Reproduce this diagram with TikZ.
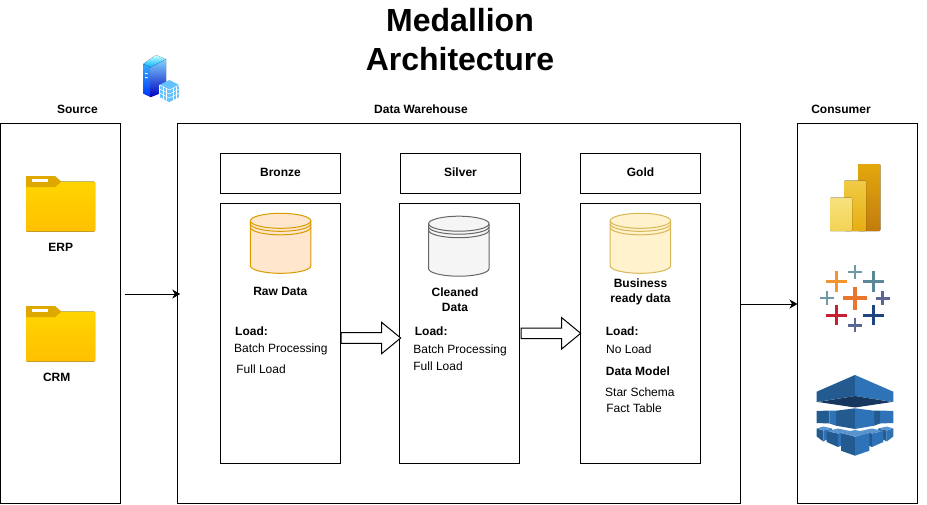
\documentclass[tikz,border=0pt]{standalone}
\usepackage{fontspec}
\setmainfont{Liberation Sans}
\usetikzlibrary{arrows.meta,shapes.arrows}
\definecolor{cubedark}{HTML}{235B91}
\definecolor{cubelight}{HTML}{2E73B8}
\definecolor{cubetop}{HTML}{5A94CE}
\definecolor{cubeshade}{HTML}{17375E}
\definecolor{foldertop}{HTML}{FFD500}
\definecolor{folderbot}{HTML}{FFC000}
\definecolor{foldertab}{HTML}{DFA800}
\definecolor{tborange}{HTML}{E8762D}
\definecolor{tbamber}{HTML}{F2952F}
\definecolor{tbteal}{HTML}{5B879B}
\definecolor{tbmist}{HTML}{7099A6}
\definecolor{tbviolet}{HTML}{5C6692}
\definecolor{tbred}{HTML}{C72035}
\definecolor{tbnavy}{HTML}{1F447F}
\definecolor{bronzefill}{HTML}{FFE6CC}
\definecolor{bronzeline}{HTML}{D79B00}
\definecolor{silverfill}{HTML}{F5F5F5}
\definecolor{silverline}{HTML}{666666}
\definecolor{goldfill}{HTML}{FFF2CC}
\definecolor{goldline}{HTML}{D6B656}
\definecolor{pbia}{HTML}{F8E27F}
\definecolor{pbib}{HTML}{F3D254}
\definecolor{pbic}{HTML}{F0CB45}
\definecolor{pbid}{HTML}{E6AE13}
\definecolor{pbie}{HTML}{E3A80D}
\definecolor{pbif}{HTML}{C27B0E}
\tikzset{
  panel/.style={draw=black,line width=1pt,inner sep=0,outer sep=0,font=\fontsize{12}{15}\selectfont\bfseries},
  title/.style={font=\fontsize{32}{39.5}\selectfont\bfseries,align=center,inner sep=0},
  head/.style={font=\fontsize{12}{15}\selectfont\bfseries,align=center,inner sep=0},
  load/.style={font=\fontsize{12}{15}\selectfont,anchor=west,inner sep=0,text height=8.5pt,text depth=2.5pt},
  loadhead/.style={load,font=\fontsize{12}{15}\selectfont\bfseries},
  blockarrow/.style={draw=black,line width=1pt,fill=white,shape=single arrow,inner sep=4.8pt,
    minimum width=31.5pt,minimum height=59.5pt,single arrow tip angle=79,single arrow head extend=10.5pt,outer sep=0},
  flow/.style={draw=black,line width=.9pt,-{Stealth[length=8pt,width=9pt,inset=2.5pt]}},
}
\newcommand{\folder}[4]{%
 \begin{scope}[shift={(#2)}]
  \fill [top color=foldertop,bottom color=folderbot,rounded corners=.8pt] (0,5.7) rectangle (69,55.5);
  \fill [fill=foldertab] (0,0) -- (29,0) -- (35.5,5.7) -- (29,11) -- (0,11) -- cycle;
  \fill [white] (6,2.5) rectangle (22,5.5);
  \node [head] (#1) at (#4,71.3) {#3};
 \end{scope}%
}
\newcommand{\datastore}[3]{%
 \begin{scope}[shift={(#1)},draw=#3,fill=#2,line width=1pt]
  \filldraw (0,7.5) -- (0,52.5) arc[start angle=180,end angle=0,x radius=30.2,y radius=7.5] -- (60.4,7.5) arc[start angle=0,end angle=-180,x radius=30.2,y radius=7.5] -- cycle;
  \draw (0,7.5) arc[start angle=180,end angle=0,x radius=30.2,y radius=7.5];
  \draw (0,10.5) arc[start angle=180,end angle=0,x radius=30.2,y radius=7.5];
  \draw (0,14) arc[start angle=180,end angle=0,x radius=30.2,y radius=7.5];
 \end{scope}%
}
\newcommand{\tabcross}[5]{%
 \fill [#5] (#1-#3,#2-#4/2) rectangle (#1+#3,#2+#4/2);
 \fill [#5] (#1-#4/2,#2-#3) rectangle (#1+#4/2,#2+#3);%
}
\newcommand{\crate}[6]{%
 \fill [cubedark] (#1,#3) -- (#5,#4) -- (#5,#6) -- (#1,#6-5) -- cycle;
 \fill [cubelight] (#5,#4) -- (#2,#3) -- (#2,#6-5) -- (#5,#6) -- cycle;
 \fill [cubetop] (#1,#3) -- (#5,#3-#4+#3) -- (#2,#3) -- (#5,#4) -- cycle;%
}
\begin{document}
\begin{tikzpicture}[x=1pt,y=-1pt]
  \useasboundingbox (0,0) rectangle (927,504);
  \node [title] (ttl) at (460,39.5) {Medallion\\Architecture};
  % server icon
  \fill [top color=cyan!20,bottom color=cyan!70!blue] (143.3,64) -- (156,55) -- (166,59.3) -- (150.7,67.3) -- cycle;
  \fill [top color=cyan!60!blue!80,bottom color=blue!80!cyan] (143.3,64) -- (150.7,67.3) -- (150.7,97) -- (143.3,93.5) -- cycle;
  \fill [top color=blue!35!cyan!50,bottom color=blue!75!black] (150.7,67.3) -- (166,59.3) -- (166,91) -- (150.7,97) -- cycle;
  \fill [white] (145,73) rectangle (147.5,74) (145,77) rectangle (147.5,78);
  \fill [blue!40!cyan!60] (169.3,80) -- (179.5,85) -- (179.5,97) -- (169.3,102) -- (159.5,97) -- (159.5,85) -- cycle;
  \foreach \i in {0,1,2}{
   \draw [white,line width=.5pt] (159.5,85+4*\i) -- (169.3,90+4*\i) -- (179.5,85+4*\i);
   \draw [white,line width=.5pt] (159.5+3.3*\i,85+1.6*\i) -- (159.5+3.3*\i,97+1.6*\i);
   \draw [white,line width=.5pt] (179.5-3.3*\i,85+1.6*\i) -- (179.5-3.3*\i,97+1.6*\i);
  }
  % panels
  \node [head] (srct) at (77.5,109.3) {Source};
  \node [head] (dwt) at (421,109.3) {Data Warehouse};
  \node [head] (cont) at (841,109.3) {Consumer};
  \node [panel,minimum width=119.5pt,minimum height=379.5pt] (src) at (60.25,313.5) {};
  \node [panel,minimum width=563.5pt,minimum height=379.5pt] (dw) at (459,313.5) {};
  \node [panel,minimum width=120pt,minimum height=379.5pt] (con) at (857.5,313.5) {};
  \node [panel,minimum width=120.5pt,minimum height=40pt,text height=8.5pt,text depth=1.5pt] (bt) at (280.5,173.3) {Bronze};
  \node [panel,minimum width=120.5pt,minimum height=40pt,text height=8.5pt,text depth=1.5pt] (st) at (460.5,173.3) {Silver};
  \node [panel,minimum width=120.5pt,minimum height=40pt,text height=8.5pt,text depth=1.5pt] (gt) at (640.5,173.3) {Gold};
  \node [panel,minimum width=120.5pt,minimum height=260pt] (bb) at (280.5,333.5) {};
  \node [panel,minimum width=120.5pt,minimum height=260pt] (sb) at (459.4,333.5) {};
  \node [panel,minimum width=120.5pt,minimum height=260pt] (gb) at (640.5,333.5) {};
  % source folders
  \folder{erp}{26,176}{ERP}{34.7}
  \folder{crm}{26,306}{CRM}{30.7}
  % layers
  \datastore{250.4,213.3}{bronzefill}{bronzeline}
  \datastore{428.6,216.2}{silverfill}{silverline}
  \datastore{610.2,213.3}{goldfill}{goldline}
  \node [head] (rawt) at (280.3,291.5) {Raw Data};
  \node [head] (clnt) at (455,299.8) {Cleaned\\Data};
  \node [head] (bust) at (640.5,291.8) {Business\\ready data};
  \node [loadhead] (bl1) at (235,332.5) {Load:};
  \node [load] (bl2) at (234,349.2) {Batch Processing};
  \node [load] (bl3) at (236.2,370.4) {Full Load};
  \node [loadhead] (sl1) at (414.7,332.5) {Load:};
  \node [load] (sl2) at (413.2,350.2) {Batch Processing};
  \node [load] (sl3) at (413.2,367.4) {Full Load};
  \node [loadhead] (gl1) at (605.7,332.5) {Load:};
  \node [load] (gl2) at (606,350.2) {No Load};
  \node [loadhead] (gl3) at (605.7,372.5) {Data Model};
  \node [load] (gl4) at (605,393.2) {Star Schema};
  \node [load] (gl5) at (606.2,409.2) {Fact Table};
  % arrows
  \node [blockarrow] (bs) at (367.7,338) {};
  \node [blockarrow] (sg) at (547.7,333.3) {};
  \draw [flow] ([xshift=4.5pt,yshift=19.5pt]src.east) -- ([xshift=3pt,yshift=19.5pt]dw.west);
  \draw [flow] ([yshift=9.5pt]dw.east) -- ([yshift=9.5pt]con.west);
  % power bi
  \fill [top color=pbie,bottom color=pbif,rounded corners=1pt] (858,164) rectangle (880.3,231);
  \fill [top color=pbic,bottom color=pbid,rounded corners=1pt] (844,180.7) rectangle (866,231);
  \fill [top color=pbia,bottom color=pbib,rounded corners=1pt] (830,197.7) rectangle (852,231);
  % tableau
  \tabcross{855}{298.3}{11.8}{4}{tborange}
  \tabcross{836.7}{281.3}{10.3}{3}{tbamber}
  \tabcross{873.3}{281.3}{10.3}{3}{tbteal}
  \tabcross{855}{271.7}{7}{2.3}{tbmist}
  \tabcross{826.7}{298.3}{7}{2.3}{tbmist}
  \tabcross{882.7}{298.3}{7}{2.5}{tbviolet}
  \tabcross{836.7}{315}{10.3}{3}{tbred}
  \tabcross{873.3}{315}{10.3}{3}{tbnavy}
  \tabcross{855}{325.3}{7}{2.5}{tbviolet}
  % cube stack
  \fill [cubedark] (816.7,391.7) -- (855,375) -- (855,396) -- (816.7,402) -- cycle;
  \fill [cubelight] (893.3,391.7) -- (855,375) -- (855,396) -- (893.3,402) -- cycle;
  \fill [cubeshade] (818,402) -- (855,396) -- (892,402) -- (855,407.5) -- cycle;
  \fill [cubedark] (816.7,411) -- (829.3,410.5) -- (829.3,423.5) -- (816.7,423) -- cycle;
  \fill [cubelight] (829.3,410.5) -- (836,410.7) -- (836,425.7) -- (829.3,423.5) -- cycle;
  \fill [cubedark] (874,410.7) -- (880,410.5) -- (880,423.5) -- (874,425.7) -- cycle;
  \fill [cubelight] (880,410.5) -- (893.3,411) -- (893.3,423) -- (880,423.5) -- cycle;
  \fill [cubedark] (836,410.7) -- (855,408.3) -- (855,429) -- (836,425.7) -- cycle;
  \fill [cubelight] (874,410.7) -- (855,408.3) -- (855,429) -- (874,425.7) -- cycle;
  \crate{816.7}{832}{428.5}{430.5}{823.3}{441.5}
  \crate{878}{893.3}{428.5}{430.5}{886.7}{441.5}
  \crate{826.7}{850}{431}{433.5}{838}{447}
  \crate{860}{883.3}{431}{433.5}{872}{447}
  \crate{841}{869.3}{433.3}{436.7}{855}{455.7}
\end{tikzpicture}
\end{document}
